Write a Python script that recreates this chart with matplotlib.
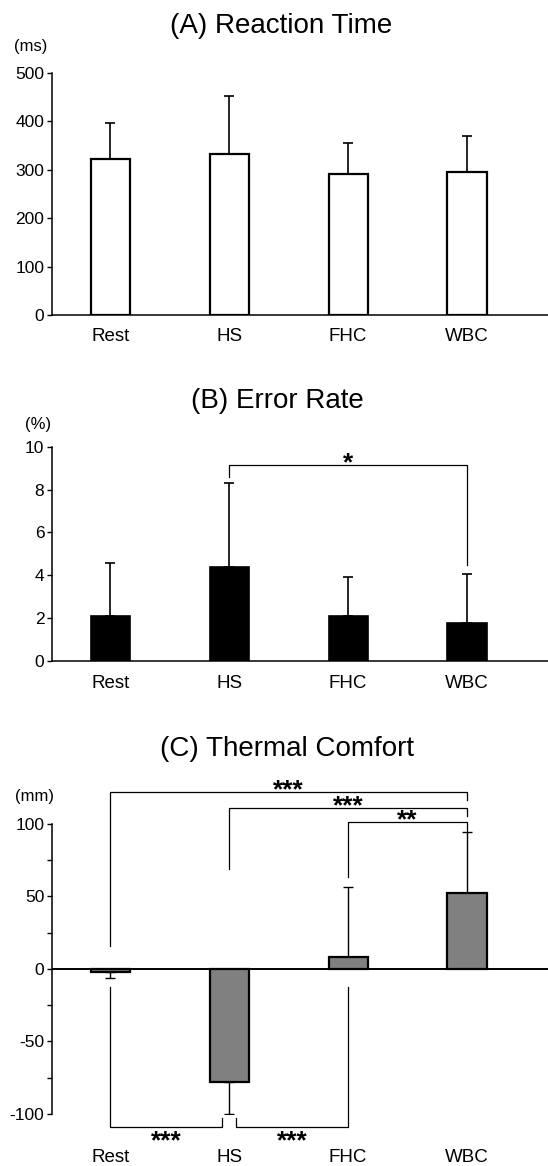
import matplotlib
matplotlib.use("Agg")
import matplotlib.pyplot as plt

plt.rcParams['font.family'] = ['Liberation Sans', 'DejaVu Sans']

groups = ['Rest', 'HS', 'FHC', 'WBC']

rt_mean = [322, 332, 291, 295]
rt_sd = [75, 120, 64, 74]

err_mean = [2.1, 4.38, 2.07, 1.75]
err_sd = [2.48, 3.94, 1.83, 2.32]

tc_mean = [-2.3, -78, 8.5, 52]
tc_sd = [4.2, 22, 48, 42]

# brackets: (x1, x2, y_line, y_leg1, y_leg2, label)
err_brackets = [(1, 3, 9.13, 8.6, 4.49, '*')]
tc_brackets_top = [(0, 3, 122, 16, 116, '***'),
                   (1, 3, 110.5, 69, 105.5, '***'),
                   (2, 3, 101, 63, 95.2, '**')]
tc_brackets_bot = [(0, 0.94, -109, -12.6, -102.5, '***'),
                   (1.06, 2, -109, -102.5, -12.6, '***')]

W, H = 548, 1166
fig = plt.figure(figsize=(W / 100, H / 100), dpi=100)

STAR_FS = 19


def px_axes(top, bottom, left=52, right=548):
    return fig.add_axes([left / W, 1 - bottom / H, (right - left) / W, (bottom - top) / H])


def style(ax, pad):
    ax.spines['top'].set_visible(False)
    ax.spines['right'].set_visible(False)
    ax.set_xlim(-0.49, 3.68)
    ax.set_xticks(range(len(groups)))
    ax.set_xticklabels(groups, fontsize=13.5)
    ax.tick_params(axis='x', length=0, pad=pad)
    ax.tick_params(axis='y', length=3.5, width=1, labelsize=12.5, pad=2)
    for s in ['left', 'bottom']:
        ax.spines[s].set_linewidth(1.1)


def bracket(ax, x1, x2, y, l1, l2, label, above=True):
    ax.plot([x1, x1, x2, x2], [l1, y, y, l2], color='black', lw=0.9, clip_on=False)
    # star glyph centre sits ~0.58 em above the baseline
    centre = 7.2 if above else -4.5
    off = centre - 0.58 * STAR_FS
    ax.annotate(label, xy=((x1 + x2) / 2, y), xytext=(0, off), textcoords='offset points',
                ha='center', va='baseline', fontsize=STAR_FS, fontweight='bold',
                annotation_clip=False)


x = list(range(len(groups)))

# (A) reaction time
ax1 = px_axes(73, 315)
ax1.bar(x, rt_mean, width=0.33, color='white', edgecolor='black', linewidth=1.6, zorder=2)
ax1.errorbar(x, rt_mean, yerr=[[0] * 4, rt_sd], fmt='none', ecolor='black',
             elinewidth=1.2, capsize=3.5, capthick=1.2, zorder=1)
ax1.set_ylim(0, 500)
ax1.set_yticks([0, 100, 200, 300, 400, 500])
style(ax1, 9.5)
fig.text(281 / W, 1 - 26 / H, '(A) Reaction Time', ha='center', va='center', fontsize=20)
fig.text(31 / W, 1 - 46 / H, '(ms)', ha='center', va='center', fontsize=12)

# (B) error rate
ax2 = px_axes(446.7, 660.7)
ax2.bar(x, err_mean, width=0.33, color='black', edgecolor='black', linewidth=1.2, zorder=2)
ax2.errorbar(x, err_mean, yerr=[[0] * 4, err_sd], fmt='none', ecolor='black',
             elinewidth=1.2, capsize=3.5, capthick=1.2, zorder=1)
ax2.set_ylim(0, 10)
ax2.set_yticks([0, 2, 4, 6, 8, 10])
style(ax2, 10.5)
for b in err_brackets:
    bracket(ax2, *b)
fig.text(277 / W, 1 - 401 / H, '(B) Error Rate', ha='center', va='center', fontsize=20)
fig.text(38 / W, 1 - 424 / H, '(%)', ha='center', va='center', fontsize=12)

# (C) thermal comfort
ax3 = px_axes(823.7, 1114)
lower = [sd if m < 0 else 0 for m, sd in zip(tc_mean, tc_sd)]
upper = [sd if m >= 0 else 0 for m, sd in zip(tc_mean, tc_sd)]
ax3.bar(x, tc_mean, width=0.33, color='#808080', edgecolor='black', linewidth=1.6, zorder=2)
ax3.errorbar(x, tc_mean, yerr=[lower, upper], fmt='none', ecolor='black',
             elinewidth=1.0, capsize=3.5, capthick=1.0, zorder=1)
ax3.axhline(0, color='black', lw=1.4, zorder=3)
ax3.set_ylim(-100, 100)
ax3.set_yticks([-100, -75, -50, -25, 0, 25, 50, 75, 100])
ax3.set_yticklabels(['-100', '', '-50', '', '0', '', '50', '', '100'])
style(ax3, 25)
ax3.spines['bottom'].set_visible(False)
for b in tc_brackets_top:
    bracket(ax3, *b)
for b in tc_brackets_bot:
    bracket(ax3, *b, above=False)
fig.text(287 / W, 1 - 749 / H, '(C) Thermal Comfort', ha='center', va='center', fontsize=20)
fig.text(34 / W, 1 - 797 / H, '(mm)', ha='center', va='center', fontsize=12)

fig.savefig('out.png', dpi=100)
